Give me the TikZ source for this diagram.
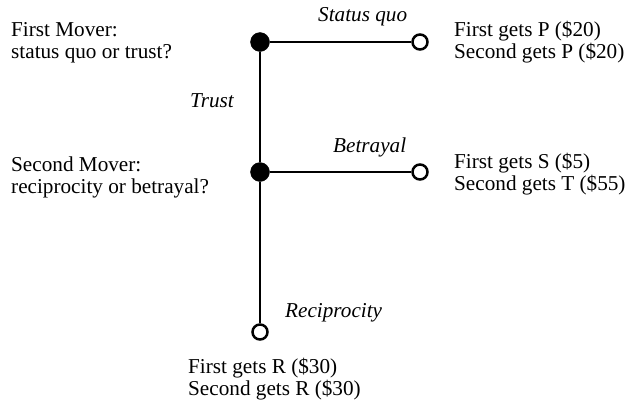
\documentclass[tikz,border=0pt]{standalone}
\usepackage{fontspec}
\setmainfont{Liberation Serif}
\begin{document}
\begin{tikzpicture}[x=1pt,y=-1pt,
  txt/.style={anchor=base west,inner sep=0pt,align=left,font=\fontsize{21.2}{22}\selectfont},
  lab/.style={anchor=base west,inner sep=0pt,font=\fontsize{21.2}{22}\selectfont\itshape},
  decision/.style={circle,fill=black,draw=black,minimum size=19pt,inner sep=0pt},
  terminal/.style={circle,fill=white,draw=black,line width=2.5pt,minimum size=15pt,inner sep=0pt},
  edge/.style={line width=1.5pt}]
\useasboundingbox (0,0) rectangle (628,407);
\node[decision] (n1) at (260,42) {};
\node[decision] (n2) at (260,172) {};
\node[terminal] (t1) at (420,42) {};
\node[terminal] (t2) at (420,172) {};
\node[terminal] (t3) at (260,332) {};
\draw[edge] (n1) -- (t1);
\draw[edge] (n1) -- (n2);
\draw[edge] (n2) -- (t2);
\draw[edge] (n2) -- (t3);
\node[txt] (q1) at (11,58) {First Mover:\\status quo or trust?};
\node[txt] (q2) at (11,193) {Second Mover:\\reciprocity or betrayal?};
\node[txt] (p1) at (454,58) {First gets P (\$20)\\Second gets P (\$20)};
\node[txt] (p2) at (454,190) {First gets S (\$5)\\Second gets T (\$55)};
\node[txt] (p3) at (188,395) {First gets R (\$30)\\Second gets R (\$30)};
\node[lab] (l1) at (318,21) {Status quo};
\node[lab] (l2) at (190,107) {Trust};
\node[lab] (l3) at (333,152) {Betrayal};
\node[lab] (l4) at (285,317) {Reciprocity};
\end{tikzpicture}
\end{document}
